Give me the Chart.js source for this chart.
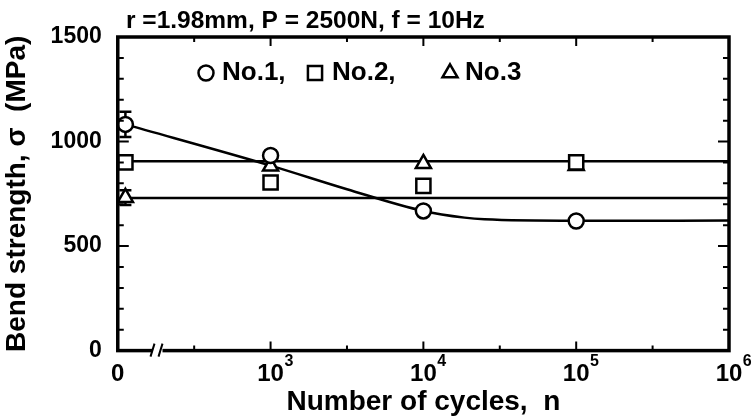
<!DOCTYPE html>
<html>
<head>
<meta charset="utf-8">
<script src="https://cdn.jsdelivr.net/npm/chart.js@4.4.0/dist/chart.umd.min.js"></script>
<style>
  body { margin: 0; background: #fff; }
</style>
</head>
<body>
<canvas id="bend-chart" width="756" height="416"></canvas>
<script>
// cycles of each test point (0 = not cycled, drawn just right of the axis)
let cycles = [0, 1e3, 1e4, 1e5];
let no1 = [1082, 933, 668, 620];
let no2 = [900, 804, 788, 900];
let no3 = [732, 882, 894, 885];
let no1Err = [60, 0, 0, 0];
let no3Err = [35, 0, 0, 0];

// fitted curve for No.1
let curveCycles = [0, 1e3, 3162, 1e4, 18600, 25100, 1e5, 1e6];
let curveNo1 = [1082, 885, 772, 668, 636, 628, 621, 622];

// the two flat lines
let flatCycles = [0, 1e6];
let flatUpper = [906, 906];
let flatLower = [730, 730];

// x ticks in log10 units, labels
let xTickPos = [2, 2.5, 3, 3.5, 4, 4.5, 5, 5.5, 6];
let xTickBase = { 2: "0", 3: "10", 4: "10", 5: "10", 6: "10" };
let xTickExp = { 3: "3", 4: "4", 5: "5", 6: "6" };

const ZERO_AT = 2.05; // where n = 0 sits
const BREAK_AT = 2.26; // axis break mark
const FONT = "'Liberation Sans', Arial, sans-serif";

function logX(n) {
  return n === 0 ? ZERO_AT : Math.log10(n);
}
function pts(xs, ys) {
  return xs.map((n, i) => ({ x: logX(n), y: ys[i] }));
}

function markerSet(data, style, r) {
  return {
    type: "scatter",
    data: data,
    pointStyle: style,
    pointRadius: r,
    pointHoverRadius: r,
    pointBorderWidth: 2.5,
    pointBorderColor: "#000",
    pointBackgroundColor: "#fff",
    showLine: false,
  };
}
function lineSet(data) {
  return {
    type: "line",
    data: data,
    borderColor: "#000",
    borderWidth: 2.5,
    pointRadius: 0,
    cubicInterpolationMode: "monotone",
    fill: false,
  };
}

let decor = {
  id: "decor",
  beforeDatasetsDraw(chart) {
    // error bars
    let ctx = chart.ctx, xs = chart.scales.x, ys = chart.scales.y;
    ctx.save();
    ctx.strokeStyle = "#000";
    ctx.lineWidth = 2.5;
    [[no1, no1Err], [no3, no3Err]].forEach(function (pair) {
      pair[0].forEach(function (v, i) {
        let e = pair[1][i];
        if (!e) return;
        let px = xs.getPixelForValue(logX(cycles[i]));
        let top = ys.getPixelForValue(v + e);
        let bot = ys.getPixelForValue(v - e);
        ctx.beginPath();
        ctx.moveTo(px, top); ctx.lineTo(px, bot);
        ctx.moveTo(px - 6, top); ctx.lineTo(px + 6, top);
        ctx.moveTo(px - 6, bot); ctx.lineTo(px + 6, bot);
        ctx.stroke();
      });
    });
    ctx.restore();
  },
  afterDraw(chart) {
    let ctx = chart.ctx, xs = chart.scales.x, ys = chart.scales.y;
    let a = chart.chartArea;
    ctx.save();
    ctx.strokeStyle = "#000";
    ctx.fillStyle = "#000";

    // inward ticks, all four sides
    ctx.lineWidth = 2;
    ctx.beginPath();
    for (let v = 0; v <= 1500; v += 100) {
      let py = ys.getPixelForValue(v);
      let len = v % 500 === 0 ? 11 : 6;
      ctx.moveTo(a.left, py); ctx.lineTo(a.left + len, py);
      ctx.moveTo(a.right, py); ctx.lineTo(a.right - len, py);
    }
    xTickPos.forEach(function (v) {
      let px = xs.getPixelForValue(v);
      let len = Number.isInteger(v) ? 9 : 5;
      ctx.moveTo(px, a.bottom); ctx.lineTo(px, a.bottom - len);
      ctx.moveTo(px, a.top); ctx.lineTo(px, a.top + len);
    });
    ctx.stroke();

    // frame
    ctx.lineWidth = 3.5;
    ctx.strokeRect(a.left, a.top, a.right - a.left, a.bottom - a.top);

    // axis break
    let bx = xs.getPixelForValue(BREAK_AT);
    ctx.fillStyle = "#fff";
    ctx.fillRect(bx - 5, a.bottom - 3, 10, 6);
    ctx.lineWidth = 2;
    ctx.beginPath();
    ctx.moveTo(bx - 7, a.bottom + 6); ctx.lineTo(bx - 3, a.bottom - 7);
    ctx.moveTo(bx + 1, a.bottom + 6); ctx.lineTo(bx + 5, a.bottom - 7);
    ctx.stroke();

    // exponents of the x labels
    ctx.fillStyle = "#000";
    ctx.font = "bold 24px " + FONT;
    let labY = a.bottom + 9 + 9;
    Object.keys(xTickExp).forEach(function (k) {
      let px = xs.getPixelForValue(Number(k));
      let w = ctx.measureText(xTickBase[k]).width;
      ctx.save();
      ctx.font = "bold 16px " + FONT;
      ctx.textAlign = "left";
      ctx.textBaseline = "middle";
      ctx.fillText(xTickExp[k], px + w / 2 + 0.5, labY - 7);
      ctx.restore();
    });

    // title
    ctx.font = "bold 24.5px " + FONT;
    ctx.textAlign = "left";
    ctx.textBaseline = "middle";
    ctx.fillText("r =1.98mm, P = 2500N, f = 10Hz", 126, 21);

    // legend
    ctx.font = "bold 26px " + FONT;
    let ly = 73;
    let styles = ["circle", "rect", "triangle"];
    let radii = [7.5, 10, 8.7];
    let mx = [206, 315, 450];
    let names = ["No.1,", "No.2,", "No.3"];
    let tx = [222, 332, 465];
    ctx.lineWidth = 2.5;
    ctx.strokeStyle = "#000";
    for (let i = 0; i < 3; i++) {
      ctx.fillStyle = "#fff";
      Chart.helpers.drawPoint(ctx, { pointStyle: styles[i], radius: radii[i], rotation: 0, borderWidth: 2.5 }, mx[i], ly);
      ctx.fillStyle = "#000";
      ctx.fillText(names[i], tx[i], ly);
    }
    ctx.restore();
  },
};

let chart = new Chart(document.getElementById("bend-chart"), {
  data: {
    datasets: [
      markerSet(pts(cycles, no1), "circle", 7.5),
      markerSet(pts(cycles, no2), "rect", 10),
      markerSet(pts(cycles, no3), "triangle", 8.7),
      lineSet(pts(curveCycles, curveNo1)),
      lineSet(pts(flatCycles, flatUpper)),
      lineSet(pts(flatCycles, flatLower)),
    ],
  },
  options: {
    responsive: false,
    animation: false,
    layout: { padding: { top: 37, right: 27, left: 0, bottom: 0 } },
    plugins: { legend: { display: false }, tooltip: { enabled: false } },
    scales: {
      x: {
        type: "linear",
        min: 2,
        max: 6,
        afterBuildTicks: function (scale) {
          scale.ticks = xTickPos.map((v) => ({ value: v }));
        },
        grid: { display: false, drawTicks: false },
        border: { display: false },
        ticks: {
          autoSkip: false,
          maxRotation: 0,
          padding: 9,
          color: "#000",
          font: { family: FONT, size: 24, weight: "bold" },
          callback: function (v) {
            return xTickBase[v] || "";
          },
        },
        title: {
          display: true,
          text: "Number of cycles,  n",
          color: "#000",
          font: { family: FONT, size: 28, weight: "bold" },
          padding: { top: -12, bottom: -3 },
        },
      },
      y: {
        min: 0,
        max: 1500,
        grid: { display: false, drawTicks: false },
        border: { display: false },
        ticks: {
          stepSize: 100,
          autoSkip: false,
          padding: 16,
          color: "#000",
          font: { family: FONT, size: 23, weight: "bold" },
          callback: function (v) {
            return v % 500 === 0 ? String(v) : "";
          },
        },
        title: {
          display: true,
          text: "Bend strength, σ  (MPa)",
          color: "#000",
          font: { family: FONT, size: 28, weight: "bold" },
          padding: { top: 0, bottom: 1 },
        },
      },
    },
  },
  plugins: [decor],
});
</script>
</body>
</html>
